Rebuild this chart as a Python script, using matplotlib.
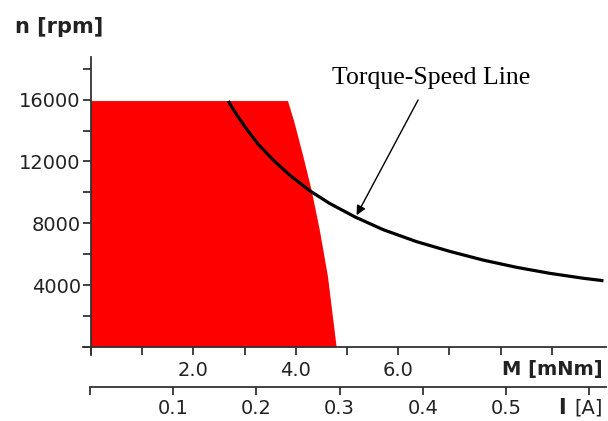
import numpy as np
import matplotlib
matplotlib.use('Agg')
import matplotlib.pyplot as plt
from matplotlib.ticker import FixedLocator

# torque-speed line of the motor (torque in mNm, speed in rpm)
line_torque = [2.68, 2.85, 3.04, 3.27, 3.56, 3.89, 4.28, 4.66, 5.16,
               5.71, 6.36, 7.01, 7.66, 8.31, 8.96, 9.62, 10.01]
line_speed = [15900, 15000, 14100, 13100, 12100, 11100, 10100, 9300, 8420,
              7600, 6830, 6200, 5640, 5174, 4787, 4465, 4310]

# continuous operating range (red area), right boundary
area_torque = [0.0, 3.85, 3.98, 4.15, 4.31, 4.47, 4.63, 4.80, 0.0]
area_speed = [15900, 15900, 14465, 12310, 10161, 7581, 4568, 0, 0]

# axis ticks
speed_ticks = [0, 2000, 4000, 6000, 8000, 10000, 12000, 14000, 16000, 18000]
speed_labels = ['', '', '4000', '', '8000', '', '12000', '', '16000', '']
torque_ticks = [0, 1, 2, 3, 4, 5, 6, 7, 8, 9]
torque_labels = ['', '', '2.0', '', '4.0', '', '6.0', '', '', '']
current_ticks = [0, 0.1, 0.2, 0.3, 0.4, 0.5, 0.6]
current_labels = ['', '0.1', '0.2', '0.3', '0.4', '0.5', '']

# annotation arrow (text end -> point on the line)
arrow_start = (6.39, 15968)
arrow_tip = (5.19, 8537)

axis_col = '#333333'
text_col = '#222222'

fig = plt.figure(figsize=(6.08, 4.21), dpi=100)
ax = fig.add_axes([82.7 / 608, (421 - 355) / 421, (606 - 82.7) / 608, (355 - 57) / 421])

ax.fill(area_torque, area_speed, color='#ff0000', lw=0, zorder=1)
ax.plot(line_torque, line_speed, color='black', lw=2.3, zorder=3,
        solid_capstyle='butt', solid_joinstyle='round')

ax.set_xlim(-0.16, 10.06)
ax.set_ylim(-484, 18742)

for s in ['top', 'right']:
    ax.spines[s].set_visible(False)
ax.spines['left'].set_position(('data', 0))
ax.spines['bottom'].set_position(('data', 0))
for s in ['left', 'bottom']:
    ax.spines[s].set_color(axis_col)
    ax.spines[s].set_linewidth(1.3)
    ax.spines[s].set_zorder(4)

ax.yaxis.set_major_locator(FixedLocator(speed_ticks))
ax.set_yticklabels(speed_labels)
ax.xaxis.set_major_locator(FixedLocator(torque_ticks))
ax.set_xticklabels(torque_labels)
ax.tick_params(axis='both', direction='out', length=5.8, width=1.3,
               color=axis_col, labelcolor=text_col, labelsize=14)
ax.tick_params(axis='y', pad=1.5)
ax.tick_params(axis='x', pad=4)
for lab in ax.get_xticklabels() + ax.get_yticklabels():
    lab.set_family('DejaVu Sans')

# second scale: current
ax2 = fig.add_axes([90 / 608, (421 - 387) / 421, (606 - 90) / 608, 0.001])
ax2.set_xlim(0, 0.6202)
ax2.set_ylim(0, 1)
for s in ['top', 'right', 'left']:
    ax2.spines[s].set_visible(False)
ax2.spines['bottom'].set_color(axis_col)
ax2.spines['bottom'].set_linewidth(1.3)
ax2.set_yticks([])
ax2.patch.set_visible(False)
ax2.xaxis.set_major_locator(FixedLocator(current_ticks))
ax2.set_xticklabels(current_labels)
ax2.tick_params(axis='x', direction='out', length=5.8, width=1.3,
                color=axis_col, labelcolor=text_col, labelsize=14, pad=3)

# axis titles
fig.text(15 / 608, 1 - 27 / 421, 'n [rpm]', fontsize=15, fontweight='bold',
         color=text_col, ha='left', va='center')
fig.text(603 / 608, 1 - 369 / 421, 'M [mNm]', fontsize=14, fontweight='bold',
         color=text_col, ha='right', va='center')
fig.text(603 / 608, 1 - 408 / 421, '[A]', fontsize=14,
         color=text_col, ha='right', va='center')
fig.text(566 / 608, 1 - 408 / 421, 'I', fontsize=15, fontweight='heavy',
         color=text_col, ha='right', va='center')

# label of the torque-speed line
ax.text(6.64, 17388, 'Torque-Speed Line', fontsize=18.5,
        family='Liberation Serif', color='black', ha='center', va='center')
ax.annotate('', xy=arrow_tip, xytext=arrow_start,
            arrowprops=dict(arrowstyle='-|>', lw=1.0, color='black',
                            mutation_scale=14, shrinkA=0, shrinkB=0))

fig.savefig('out.png', dpi=100)
